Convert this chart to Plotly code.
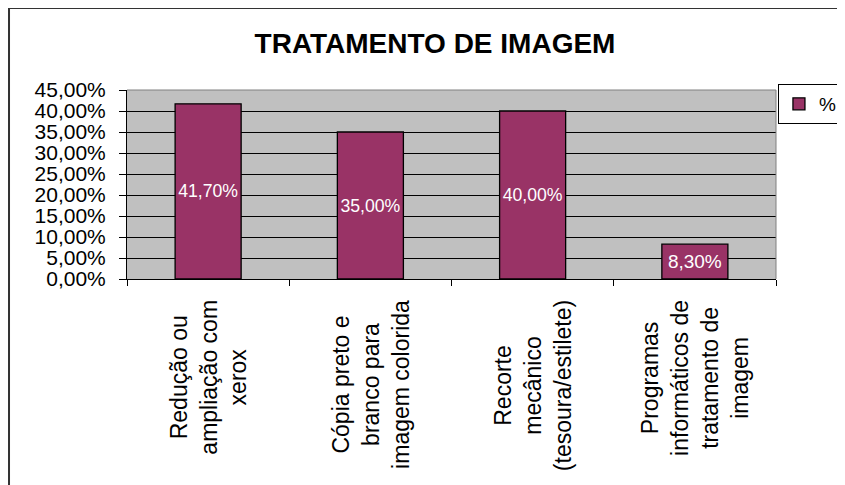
import plotly.graph_objects as go

# Données du graphique
categorias = [
    "Redução ou<br>ampliação com<br>xerox",
    "Cópia preto e<br>branco para<br>imagem colorida",
    "Recorte<br>mecânico<br>(tesoura/estilete)",
    "Programas<br>informáticos de<br>tratamento de<br>imagem",
]
percentagens = [0.417, 0.35, 0.40, 0.083]
serie_nome = "%"
titulo = "TRATAMENTO DE IMAGEM"

cor_barra = '#993366'
fonte = 'Liberation Sans, Arial, sans-serif'

fig = go.Figure(data=[go.Bar(
    x=list(range(len(categorias))),
    y=percentagens,
    name=serie_nome,
    marker=dict(color=cor_barra, line=dict(color='black', width=1.3)),
    texttemplate='%{y:.2%}',
    textposition='inside',
    insidetextanchor='middle',
    textangle=0,
    textfont=dict(color='white', size=19, family=fonte),
    showlegend=True,
)])

# la page a une marge de 8px, d'où le décalage
fig.update_layout(
    width=845, height=485,
    margin=dict(l=119, r=77, t=82, b=214, autoexpand=False),
    separators=',.',
    paper_bgcolor='white',
    plot_bgcolor='#c0c0c0',  # fond gris style Excel
    bargap=0.593,
    font=dict(family=fonte, color='black'),
    title=dict(text=titulo, x=427 / 845, xanchor='center', xref='container',
               y=1 - 35 / 485, yanchor='middle', yref='container',
               font=dict(size=28, family=fonte, color='black', weight='bold')),
    xaxis=dict(range=[-0.5, len(categorias) - 0.5], tickvals=[i - 0.5 for i in range(len(categorias) + 1)],
               showticklabels=False, ticks='outside', ticklen=6, tickcolor='black',
               showgrid=False, zeroline=False, showline=True, linecolor='black', linewidth=1),
    yaxis=dict(range=[0, 0.45], dtick=0.05, tickformat='.2%',
               ticks='outside', ticklen=7, tickcolor='black', ticklabelstandoff=9,
               tickfont=dict(size=21, family=fonte, color='black'),
               showgrid=True, gridcolor='black', gridwidth=1,
               zeroline=False, showline=True, linecolor='black', linewidth=1),
    legend=dict(x=1.003, y=1.032, xanchor='left', yanchor='top',
                bgcolor='white', bordercolor='black', borderwidth=1,
                itemwidth=30,
                font=dict(size=19, family=fonte)),
)

# Etiquetas do eixo x (rotacionadas, centradas)
for i, cat in enumerate(categorias):
    fig.add_annotation(x=i, y=0, xref='x', yref='paper', text=cat,
                       textangle=-90, align='center', showarrow=False,
                       xanchor='center', yanchor='top', yshift=-19,
                       font=dict(size=23, family=fonte, color='black'))

# Bordas cinzentas da área do gráfico (topo e direita)
fig.add_shape(type='path', xref='paper', yref='paper',
              path='M 0,1 L 1,1 L 1,0', line=dict(color='#808080', width=1))

# Moldura exterior do gráfico
fig.add_shape(type='rect', xref='paper', yref='paper',
              x0=-0.1818, x1=1.2, y0=-1.2, y1=1.434,
              line=dict(color='#333333', width=2))

fig.write_html("out.html")
